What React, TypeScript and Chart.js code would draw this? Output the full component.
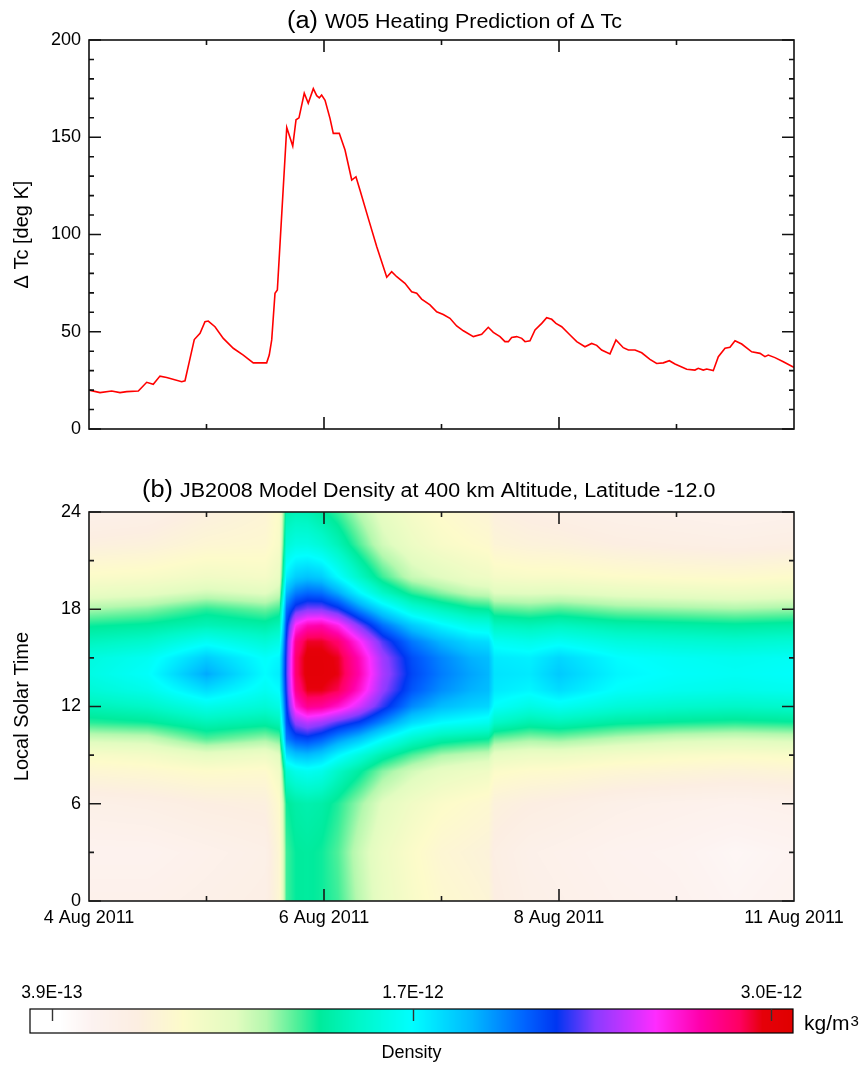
import React, { useEffect, useRef } from 'react';
import { Chart, registerables } from 'chart.js';

Chart.register(...registerables);

const FONT = '"Liberation Sans", Arial, Helvetica, sans-serif';

// ---------- Panel (a): W05 heating prediction of delta Tc ----------
const tcDays = [
  0.0, 0.094, 0.193, 0.264, 0.321, 0.42, 0.491, 0.547, 0.604, 0.661, 0.789, 0.817, 0.86, 0.896, 0.945,
  0.987, 1.015, 1.072, 1.143, 1.228, 1.313, 1.398, 1.512, 1.534, 1.555, 1.583, 1.603, 1.683, 1.734,
  1.762, 1.787, 1.832, 1.866, 1.909, 1.938, 1.96, 1.98, 2.009, 2.051, 2.079, 2.13, 2.179, 2.236, 2.272,
  2.306, 2.377, 2.449, 2.534, 2.576, 2.619, 2.689, 2.746, 2.789, 2.831, 2.902, 2.959, 3.015, 3.072,
  3.129, 3.186, 3.271, 3.342, 3.398, 3.441, 3.498, 3.54, 3.569, 3.597, 3.64, 3.683, 3.711, 3.753,
  3.796, 3.853, 3.895, 3.938, 3.974, 4.023, 4.094, 4.151, 4.221, 4.278, 4.321, 4.363, 4.434, 4.485,
  4.547, 4.59, 4.647, 4.704, 4.774, 4.831, 4.888, 4.939, 4.987, 5.087, 5.157, 5.185, 5.228, 5.257,
  5.313, 5.356, 5.413, 5.455, 5.498, 5.555, 5.64, 5.711, 5.753, 5.781, 5.838, 5.909, 5.989, 6.0,
];
const tcValues = [
  20.0, 18.7, 19.5, 18.7, 19.2, 19.5, 24.0, 23.0, 27.2, 26.5, 24.3, 24.8, 36.3, 46.0, 49.2,
  55.2, 55.5, 52.6, 46.6, 41.5, 38.0, 34.0, 34.0, 38.0, 45.8, 69.8, 71.5, 155.0, 145.5,
  159.0, 160.0, 172.6, 167.5, 175.0, 171.4, 170.3, 171.7, 169.0, 159.7, 152.0, 152.0, 143.4, 128.0, 129.7,
  122.9, 108.3, 93.7, 78.0, 80.9, 78.3, 74.9, 70.6, 69.8, 66.8, 63.8, 60.3, 58.9, 56.9,
  53.0, 50.5, 47.5, 48.7, 52.3, 49.7, 47.5, 44.9, 44.9, 47.0, 47.5, 46.6, 44.9, 45.3,
  50.9, 54.3, 57.2, 56.4, 54.3, 52.6, 48.3, 44.9, 42.3, 44.0, 43.0, 40.6, 38.6, 45.8,
  41.8, 40.6, 40.6, 39.2, 35.8, 33.7, 34.0, 35.1, 33.4, 30.7, 30.3, 31.2, 30.3, 30.8,
  30.0, 37.2, 41.5, 42.0, 45.4, 43.7, 39.7, 38.9, 37.2, 38.0, 36.7, 34.6, 32.0, 31.8,
];
const tcTickValues = [0, 50, 100, 150, 200];
const tcMinorValues = [10, 20, 30, 40, 60, 70, 80, 90, 110, 120, 130, 140, 160, 170, 180, 190];

// ---------- shared time axis (days after 4 Aug 2011) ----------
const dayTickValues = [0, 2, 4, 6];
const dayTickLabels = ['4 Aug 2011', '6 Aug 2011', '8 Aug 2011', '11 Aug 2011'];
const dayMajorInner = [2, 4];
const dayMinorInner = [1, 3, 5];

// ---------- Panel (b): JB2008 density, units of 1e-12 kg/m^3 ----------
const lstHours = [0, 3, 6, 8, 9, 10, 11, 12, 13, 14, 15, 16, 17, 18, 19, 20, 22, 24];
const densityDays = [0, 0.5, 1, 1.5, 1.62, 1.68, 1.76, 1.86, 1.98, 2.12, 2.3, 2.5, 2.75, 3, 3.25, 3.4, 3.45, 3.75, 4, 4.5, 5, 5.5, 6];
const densityE12 = [
  [0.60, 0.56, 0.64, 0.80, 0.90, 1.10, 1.32, 1.45, 1.55, 1.60, 1.58, 1.47, 1.35, 1.18, 1.00, 0.88, 0.72, 0.62],
  [0.60, 0.56, 0.66, 0.82, 0.93, 1.12, 1.35, 1.50, 1.62, 1.68, 1.65, 1.52, 1.38, 1.22, 1.03, 0.90, 0.74, 0.64],
  [0.63, 0.60, 0.70, 0.86, 1.02, 1.28, 1.45, 1.62, 1.80, 1.95, 1.85, 1.66, 1.45, 1.32, 1.10, 0.95, 0.80, 0.72],
  [0.66, 0.64, 0.72, 0.84, 0.97, 1.20, 1.40, 1.55, 1.65, 1.70, 1.68, 1.55, 1.40, 1.25, 1.05, 0.92, 0.82, 0.78],
  [0.80, 0.80, 0.85, 0.95, 1.05, 1.25, 1.45, 1.60, 1.70, 1.75, 1.72, 1.60, 1.45, 1.30, 1.12, 1.00, 0.90, 0.88],
  [1.30, 1.30, 1.35, 1.55, 1.80, 2.05, 2.15, 2.20, 2.25, 2.28, 2.27, 2.24, 2.18, 2.08, 1.92, 1.75, 1.55, 1.42],
  [1.36, 1.36, 1.40, 1.62, 1.88, 2.15, 2.38, 2.65, 2.80, 2.86, 2.86, 2.80, 2.60, 2.28, 2.05, 1.85, 1.60, 1.45],
  [1.37, 1.37, 1.42, 1.65, 1.90, 2.18, 2.45, 2.80, 2.96, 3.00, 3.00, 2.94, 2.72, 2.35, 2.10, 1.88, 1.60, 1.44],
  [1.35, 1.35, 1.40, 1.62, 1.85, 2.12, 2.40, 2.78, 2.96, 3.00, 3.00, 2.94, 2.74, 2.35, 2.08, 1.85, 1.55, 1.38],
  [1.30, 1.28, 1.33, 1.50, 1.72, 2.00, 2.30, 2.68, 2.90, 2.96, 2.95, 2.86, 2.62, 2.25, 1.95, 1.70, 1.45, 1.30],
  [1.15, 1.12, 1.20, 1.38, 1.58, 1.88, 2.20, 2.50, 2.68, 2.74, 2.72, 2.60, 2.35, 2.02, 1.72, 1.50, 1.28, 1.16],
  [1.00, 0.98, 1.05, 1.22, 1.42, 1.70, 2.02, 2.27, 2.38, 2.42, 2.40, 2.30, 2.08, 1.80, 1.50, 1.30, 1.10, 1.02],
  [0.90, 0.88, 0.95, 1.10, 1.28, 1.52, 1.80, 2.02, 2.14, 2.18, 2.16, 2.06, 1.86, 1.58, 1.32, 1.12, 0.98, 0.92],
  [0.83, 0.80, 0.88, 1.02, 1.18, 1.42, 1.70, 1.90, 2.01, 2.05, 2.03, 1.92, 1.72, 1.47, 1.22, 1.05, 0.90, 0.85],
  [0.80, 0.77, 0.84, 0.98, 1.14, 1.38, 1.66, 1.84, 1.93, 1.96, 1.93, 1.82, 1.62, 1.38, 1.14, 0.98, 0.86, 0.80],
  [0.78, 0.75, 0.82, 0.96, 1.12, 1.36, 1.63, 1.82, 1.90, 1.92, 1.90, 1.80, 1.60, 1.36, 1.12, 0.96, 0.84, 0.78],
  [0.70, 0.68, 0.74, 0.88, 1.02, 1.25, 1.50, 1.68, 1.76, 1.78, 1.76, 1.66, 1.48, 1.28, 1.06, 0.92, 0.78, 0.72],
  [0.64, 0.62, 0.70, 0.85, 0.98, 1.20, 1.42, 1.60, 1.72, 1.76, 1.74, 1.62, 1.45, 1.25, 1.05, 0.90, 0.75, 0.68],
  [0.62, 0.60, 0.68, 0.84, 0.98, 1.22, 1.45, 1.65, 1.80, 1.86, 1.82, 1.66, 1.48, 1.28, 1.06, 0.90, 0.74, 0.66],
  [0.58, 0.56, 0.63, 0.80, 0.93, 1.15, 1.38, 1.56, 1.68, 1.72, 1.70, 1.58, 1.42, 1.22, 1.02, 0.87, 0.70, 0.62],
  [0.56, 0.54, 0.60, 0.78, 0.90, 1.10, 1.35, 1.52, 1.64, 1.68, 1.66, 1.55, 1.40, 1.20, 1.00, 0.85, 0.68, 0.60],
  [0.52, 0.50, 0.58, 0.76, 0.88, 1.08, 1.33, 1.50, 1.62, 1.66, 1.64, 1.53, 1.38, 1.18, 0.98, 0.84, 0.66, 0.58],
  [0.55, 0.53, 0.60, 0.78, 0.90, 1.10, 1.35, 1.52, 1.64, 1.68, 1.66, 1.55, 1.40, 1.20, 1.00, 0.86, 0.68, 0.60],
];
const lstTickValues = [0, 6, 12, 18, 24];
const lstMinorValues = [3, 9, 15, 21];

// ---------- colour bar ----------
const cbTickValues = [0.39, 1.7, 3.0];
const cbTickLabels = ['3.9E-13', '1.7E-12', '3.0E-12'];
const cbMin = 0.311;
const cbMax = 3.078;

// colour map stops: density value (1e-12) -> colour
const cmapValues = [0.311, 0.422, 0.532, 0.698, 0.864, 1.058, 1.169, 1.279, 1.362, 1.501, 1.695, 1.916, 2.11, 2.22, 2.359, 2.58, 2.746, 2.884, 2.967, 3.078];
const cmapColors = ['#ffffff', '#ffffff', '#fdf3f1', '#fceee2', '#fdfbca', '#e2fcc0', '#b4f8ae', '#50f09a', '#00eb9c', '#00f8c8', '#00ffff', '#00b8ff', '#0062ff', '#0036f2', '#8a3cff', '#ff2cff', '#ff00a8', '#ff0062', '#e6000a', '#e00000'];

function hexRgb(h: string) {
  return [parseInt(h.slice(1, 3), 16), parseInt(h.slice(3, 5), 16), parseInt(h.slice(5, 7), 16)];
}
const cmapRgb = cmapColors.map(hexRgb);

function colorFor(v: number) {
  if (v <= cmapValues[0]) return cmapRgb[0];
  const n = cmapValues.length;
  if (v >= cmapValues[n - 1]) return cmapRgb[n - 1];
  let i = 0;
  while (i < n - 2 && v > cmapValues[i + 1]) i++;
  const t = (v - cmapValues[i]) / (cmapValues[i + 1] - cmapValues[i]);
  const a = cmapRgb[i], b = cmapRgb[i + 1];
  return [a[0] + (b[0] - a[0]) * t, a[1] + (b[1] - a[1]) * t, a[2] + (b[2] - a[2]) * t];
}

function bracket(arr: number[], v: number) {
  if (v <= arr[0]) return [0, 0];
  const n = arr.length;
  if (v >= arr[n - 1]) return [n - 2, 1];
  let i = 0;
  while (i < n - 2 && v > arr[i + 1]) i++;
  return [i, (v - arr[i]) / (arr[i + 1] - arr[i])];
}

function drawStretched(ctx: any, s: string, x: number, y: number, font: string, k: number) {
  ctx.save();
  ctx.font = font;
  ctx.translate(x, y);
  ctx.scale(k, 1);
  ctx.textAlign = 'left';
  ctx.textBaseline = 'alphabetic';
  ctx.fillStyle = '#000';
  ctx.fillText(s, 0, 0);
  ctx.restore();
}

const panelTitlePlugin = {
  id: 'panelTitle',
  afterDraw(chart: any, _a: any, o: any) {
    const ctx = chart.ctx;
    drawStretched(ctx, o.label, o.labelX, o.baseline, `${o.labelSize}px ${FONT}`, o.stretch);
    drawStretched(ctx, o.text, o.textX, o.baseline, `${o.textSize}px ${FONT}`, o.stretch);
  },
};

const frameTicksPlugin = {
  id: 'frameTicks',
  afterDraw(chart: any, _a: any, o: any) {
    const { ctx, chartArea } = chart;
    const { left, right, top, bottom } = chartArea;
    const xs = chart.scales.x, ys = chart.scales.y;
    ctx.save();
    ctx.strokeStyle = o.color;
    ctx.lineWidth = o.lineWidth;
    ctx.beginPath();
    const xt = (vals: number[], len: number) => {
      for (const v of vals) {
        const p = xs.getPixelForValue(v);
        ctx.moveTo(p, top); ctx.lineTo(p, top + len);
        ctx.moveTo(p, bottom); ctx.lineTo(p, bottom - len);
      }
    };
    const yt = (vals: number[], len: number) => {
      for (const v of vals) {
        const p = ys.getPixelForValue(v);
        ctx.moveTo(left, p); ctx.lineTo(left + len, p);
        ctx.moveTo(right, p); ctx.lineTo(right - len, p);
      }
    };
    xt(o.xMajor, o.major); xt(o.xMinor, o.minor);
    yt(o.yMajor, o.major); yt(o.yMinor, o.minor);
    ctx.stroke();
    ctx.strokeRect(left, top, right - left, bottom - top);
    ctx.restore();
  },
};

const heatmapPlugin = {
  id: 'heatmap',
  beforeDraw(chart: any) {
    const { ctx, chartArea } = chart;
    const xs = chart.scales.x, ys = chart.scales.y;
    const L = Math.round(chartArea.left), T = Math.round(chartArea.top);
    const W = Math.round(chartArea.right) - L, H = Math.round(chartArea.bottom) - T;
    const img = ctx.createImageData(W, H);
    const cols = [];
    for (let i = 0; i < W; i++) cols.push(bracket(densityDays, xs.getValueForPixel(L + i + 0.5)));
    const rows = [];
    for (let j = 0; j < H; j++) rows.push(bracket(lstHours, ys.getValueForPixel(T + j + 0.5)));
    for (let j = 0; j < H; j++) {
      const [k, wy] = rows[j];
      for (let i = 0; i < W; i++) {
        const [c, wx] = cols[i];
        const a = densityE12[c], b = densityE12[c + 1];
        const v = (1 - wx) * ((1 - wy) * a[k] + wy * a[k + 1]) + wx * ((1 - wy) * b[k] + wy * b[k + 1]);
        const rgb = colorFor(v);
        const p = (j * W + i) * 4;
        img.data[p] = rgb[0]; img.data[p + 1] = rgb[1]; img.data[p + 2] = rgb[2]; img.data[p + 3] = 255;
      }
    }
    ctx.putImageData(img, L, T);
  },
};

const colorbarPlugin = {
  id: 'colorbar',
  afterDraw(chart: any) {
    const { ctx, chartArea } = chart;
    const { left, right, top, bottom } = chartArea;
    const xs = chart.scales.x;
    ctx.save();
    for (let px = Math.floor(left); px < Math.ceil(right); px++) {
      const rgb = colorFor(xs.getValueForPixel(px + 0.5));
      ctx.fillStyle = `rgb(${rgb[0] | 0},${rgb[1] | 0},${rgb[2] | 0})`;
      ctx.fillRect(px, top, 1, bottom - top);
    }
    ctx.strokeStyle = '#000';
    ctx.lineWidth = 1.2;
    ctx.strokeRect(left, top, right - left, bottom - top);
    ctx.strokeStyle = '#333';
    ctx.lineWidth = 1.4;
    ctx.beginPath();
    for (const v of cbTickValues) {
      const p = Math.round(xs.getPixelForValue(v)) + 0.5;
      ctx.moveTo(p, top); ctx.lineTo(p, top + 12);
    }
    ctx.stroke();
    ctx.fillStyle = '#000';
    ctx.textAlign = 'left';
    ctx.textBaseline = 'alphabetic';
    ctx.font = `21px ${FONT}`;
    ctx.fillText('kg/m', right + 11, top + 21);
    const w = ctx.measureText('kg/m').width;
    ctx.font = `15px ${FONT}`;
    ctx.fillText('3', right + 11 + w + 1, top + 17);
    ctx.restore();
  },
};

const tickFont = { family: FONT, size: 18 };
const titleFont = { family: FONT, size: 20 };

export default function App() {
  const refA = useRef<HTMLCanvasElement>(null);
  const refB = useRef<HTMLCanvasElement>(null);
  const refC = useRef<HTMLCanvasElement>(null);

  useEffect(() => {
    const noAxisDeco = { grid: { display: false, drawTicks: false }, border: { display: false } };

    const chartA = new Chart(refA.current as HTMLCanvasElement, {
      type: 'line',
      data: {
        datasets: [{
          data: tcDays.map((d, i) => ({ x: d, y: tcValues[i] })),
          borderColor: '#ff0000',
          borderWidth: 1.6,
          pointRadius: 0,
          tension: 0,
          fill: false,
        }],
      },
      options: {
        animation: false,
        responsive: false,
        events: [],
        layout: { padding: { left: 0, top: 40, right: 67, bottom: 0 } },
        plugins: {
          legend: { display: false },
          tooltip: { enabled: false },
          title: { display: false },
          frameTicks: { color: '#111', lineWidth: 1.6, major: 12, minor: 5, xMajor: dayMajorInner, xMinor: dayMinorInner, yMajor: tcTickValues, yMinor: tcMinorValues },
          panelTitle: { label: '(a)', text: 'W05 Heating Prediction of \u0394 Tc', labelX: 287, textX: 325, baseline: 27.5, labelSize: 23, textSize: 19.5, stretch: 1.1 },
        } as any,
        scales: {
          x: {
            type: 'linear', min: 0, max: 6, ...noAxisDeco,
            ticks: { display: false },
            afterFit: (s: any) => { s.height = 21; },
          },
          y: {
            type: 'linear', min: 0, max: 200, ...noAxisDeco,
            afterBuildTicks: (s: any) => { s.ticks = tcTickValues.map((v) => ({ value: v })); },
            ticks: { font: tickFont, color: '#000', padding: 8 },
            title: { display: true, text: '\u0394 Tc [deg K]', font: titleFont, color: '#000', padding: { top: 10, bottom: 0 } },
            afterFit: (s: any) => { s.width = 89; },
          },
        },
      } as any,
      plugins: [frameTicksPlugin, panelTitlePlugin] as any,
    });

    const chartB = new Chart(refB.current as HTMLCanvasElement, {
      type: 'scatter',
      data: { datasets: [{ data: [] }] },
      options: {
        animation: false,
        responsive: false,
        events: [],
        layout: { padding: { left: 0, top: 62, right: 67, bottom: 0 } },
        plugins: {
          legend: { display: false },
          tooltip: { enabled: false },
          title: { display: false },
          frameTicks: { color: '#1a1a1a', lineWidth: 1.6, major: 12, minor: 5, xMajor: dayMajorInner, xMinor: dayMinorInner, yMajor: lstTickValues, yMinor: lstMinorValues },
          panelTitle: { label: '(b)', text: 'JB2008 Model Density at 400 km Altitude, Latitude -12.0', labelX: 142, textX: 180, baseline: 47.3, labelSize: 23, textSize: 19.5, stretch: 1.1 },
        } as any,
        scales: {
          x: {
            type: 'linear', min: 0, max: 6, ...noAxisDeco,
            afterBuildTicks: (s: any) => { s.ticks = dayTickValues.map((v) => ({ value: v })); },
            ticks: { font: tickFont, color: '#000', padding: 6, maxRotation: 0, minRotation: 0, autoSkip: false, callback: (_v: any, i: number) => dayTickLabels[i] },
            afterFit: (s: any) => { s.height = 59; },
          },
          y: {
            type: 'linear', min: 0, max: 24, ...noAxisDeco,
            afterBuildTicks: (s: any) => { s.ticks = lstTickValues.map((v) => ({ value: v })); },
            ticks: { font: tickFont, color: '#000', padding: 8 },
            title: { display: true, text: 'Local Solar Time', font: titleFont, color: '#000', padding: { top: 10, bottom: 0 } },
            afterFit: (s: any) => { s.width = 89; },
          },
        },
      } as any,
      plugins: [heatmapPlugin, frameTicksPlugin, panelTitlePlugin] as any,
    });

    const chartC = new Chart(refC.current as HTMLCanvasElement, {
      type: 'scatter',
      data: { datasets: [{ data: [] }] },
      options: {
        animation: false,
        responsive: false,
        events: [],
        layout: { padding: { left: 30, top: 0, right: 68, bottom: 0 } },
        plugins: { legend: { display: false }, tooltip: { enabled: false }, title: { display: false } },
        scales: {
          x: {
            type: 'linear', position: 'top', min: cbMin, max: cbMax, ...noAxisDeco,
            afterBuildTicks: (s: any) => { s.ticks = cbTickValues.map((v) => ({ value: v })); },
            ticks: { font: { family: FONT, size: 17.5 }, color: '#000', padding: 5, maxRotation: 0, minRotation: 0, autoSkip: false, callback: (_v: any, i: number) => cbTickLabels[i] },
            afterFit: (s: any) => { s.height = 49; },
          },
          x2: {
            type: 'linear', position: 'bottom', min: cbMin, max: cbMax, ...noAxisDeco,
            ticks: { display: false },
            title: { display: true, text: 'Density', font: { family: FONT, size: 18 }, color: '#000', padding: { top: 0, bottom: 6 } },
            afterFit: (s: any) => { s.height = 37; },
          },
          y: { type: 'linear', display: false, min: 0, max: 1 },
        },
      } as any,
      plugins: [colorbarPlugin] as any,
    });

    return () => { chartA.destroy(); chartB.destroy(); chartC.destroy(); };
  }, []);

  const cv = (top: number): React.CSSProperties => ({ position: 'absolute', left: 0, top, display: 'block' });
  return (
    <div style={{ position: 'absolute', left: 0, top: 0, width: 861, height: 1070, background: '#fff', overflow: 'hidden' }}>
      <canvas ref={refA} width={861} height={450} style={cv(0)} />
      <canvas ref={refB} width={861} height={510} style={cv(450)} />
      <canvas ref={refC} width={861} height={110} style={cv(960)} />
    </div>
  );
}
